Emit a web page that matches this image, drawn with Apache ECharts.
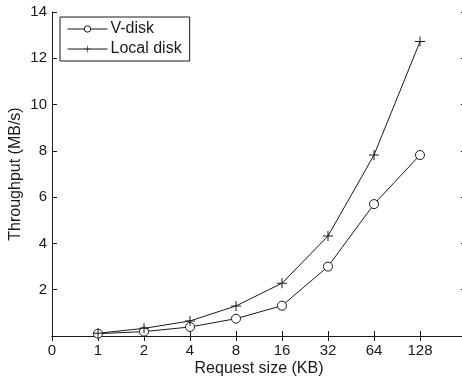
<!DOCTYPE html>
<html>
<head>
<meta charset="utf-8">
<script src="https://cdn.jsdelivr.net/npm/echarts@6/dist/echarts.min.js"></script>
<style>
  html, body { margin: 0; padding: 0; background: #fff; }
  #chart { width: 462px; height: 378px; }
</style>
</head>
<body>
<div id="chart"></div>
<script>
// request sizes (KB); first slot is the empty "0" position, last slot is padding
const sizes = ['0', '1', '2', '4', '8', '16', '32', '64', '128', '']
const vdisk = [null, 0.1, 0.19, 0.39, 0.75, 1.31, 3.0, 5.7, 7.82, null]
const localDisk = [null, 0.12, 0.33, 0.65, 1.3, 2.28, 4.32, 7.82, 12.72, null]

const font = 'Liberation Sans, Arial, sans-serif'
const ink = '#1a1a1a'
const plus = 'path://M0,4.5H10V5.5H0Z M4.5,0H5.5V10H4.5Z'

const chart = echarts.init(document.getElementById('chart'))

const axisCommon = {
  axisLine: { show: true, lineStyle: { color: ink, width: 1 } },
  axisTick: { show: true, inside: true, length: 5, lineStyle: { color: ink } },
  splitLine: { show: false }
}

chart.setOption({
  animation: false,
  textStyle: { fontFamily: font },
  grid: { left: 52, right: -4, top: 12, bottom: 42, outerBoundsMode: 'none', containLabel: false },
  legend: {
    orient: 'vertical',
    left: 60,
    top: 17,
    padding: [4, 8, 4, 7],
    itemGap: 4,
    itemWidth: 40,
    itemHeight: 8,
    borderColor: ink,
    borderWidth: 1,
    lineStyle: { width: 1 },
    itemStyle: { borderWidth: 1 },
    textStyle: { fontFamily: font, fontSize: 16, lineHeight: 15, color: ink, padding: [0, 0, 0, -2] },
    data: ['V-disk', 'Local disk']
  },
  xAxis: [
    Object.assign({}, axisCommon, {
      type: 'category',
      data: sizes,
      boundaryGap: false,
      name: 'Request size (KB)',
      nameLocation: 'middle',
      nameGap: 25,
      nameMoveOverlap: false,
      nameTextStyle: { fontFamily: font, fontSize: 16, color: ink },
      axisLabel: { fontFamily: font, fontSize: 15, color: ink, margin: 7, interval: 0 }
    }),
    Object.assign({}, axisCommon, {
      type: 'category',
      data: sizes,
      boundaryGap: false,
      position: 'top',
      axisLabel: { show: false }
    })
  ],
  yAxis: [
    Object.assign({}, axisCommon, {
      type: 'value',
      min: 0,
      max: 14,
      interval: 2,
      name: 'Throughput (MB/s)',
      nameLocation: 'middle',
      nameGap: 28,
      nameMoveOverlap: false,
      nameTextStyle: { fontFamily: font, fontSize: 16, color: ink },
      axisLabel: {
        fontFamily: font, fontSize: 15, color: ink, margin: 5,
        formatter: v => (v === 0 ? '' : String(v))
      }
    }),
    Object.assign({}, axisCommon, {
      type: 'value',
      min: 0,
      max: 14,
      interval: 2,
      position: 'right',
      axisLabel: { show: false }
    })
  ],
  series: [
    {
      name: 'V-disk',
      type: 'line',
      data: vdisk,
      symbol: 'circle',
      symbolSize: 9,
      showAllSymbol: true,
      lineStyle: { color: ink, width: 1 },
      itemStyle: { color: '#fff', borderColor: ink, borderWidth: 1 }
    },
    {
      name: 'Local disk',
      type: 'line',
      data: localDisk,
      symbol: plus,
      symbolSize: 10,
      showAllSymbol: true,
      lineStyle: { color: ink, width: 1 },
      itemStyle: { color: ink }
    }
  ]
})
</script>
</body>
</html>
